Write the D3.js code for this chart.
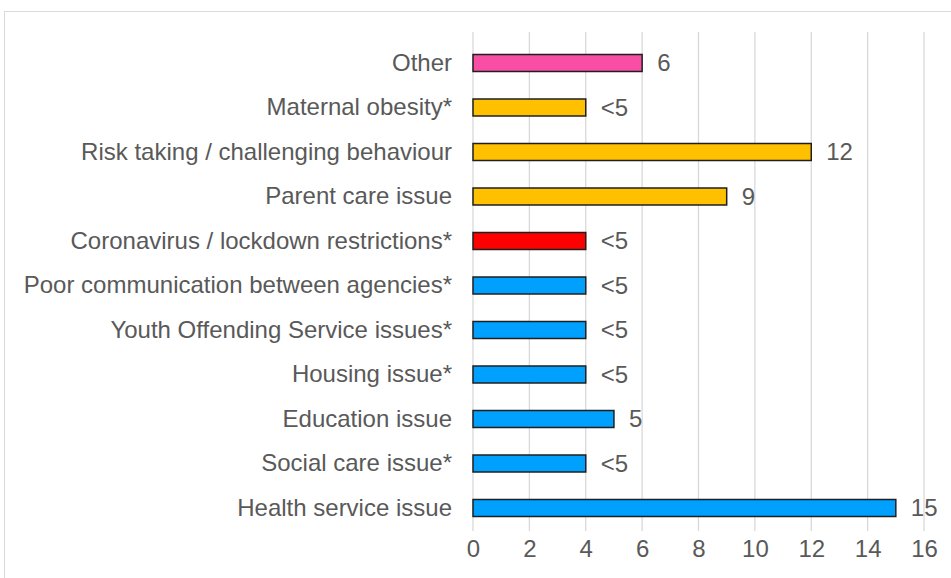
<!DOCTYPE html>
<html>
<head>
  <meta charset="utf-8">
  <script src="https://d3js.org/d3.v7.min.js"></script>
  <style>
    body { margin:0; background:#fff; }
    text { font-family: "Liberation Sans", Arial, sans-serif; fill:#595959; }
  </style>
</head>
<body>
<script>
  // chart data, top to bottom
  var categories = ["Other", "Maternal obesity*", "Risk taking / challenging behaviour",
    "Parent care issue", "Coronavirus / lockdown restrictions*",
    "Poor communication between agencies*", "Youth Offending Service issues*",
    "Housing issue*", "Education issue", "Social care issue*", "Health service issue"];
  var values = [6, 4, 12, 9, 4, 4, 4, 4, 5, 4, 15];
  var valueLabels = ["6", "<5", "12", "9", "<5", "<5", "<5", "<5", "5", "<5", "15"];
  var groups = ["other", "family", "family", "family", "covid",
    "service", "service", "service", "service", "service", "service"];
  var ticks = [0, 2, 4, 6, 8, 10, 12, 14, 16];

  var colour = {other: "#F84FA5", family: "#FFC000", covid: "#FF0000", service: "#00A0FF"};

  var W = 951, H = 578;
  var svg = d3.select("body").append("svg")
      .attr("width", W)
      .attr("height", H);

  // light frame around the chart
  svg.append("rect")
    .attr("x", 4.5).attr("y", 11.5)
    .attr("width", W + 10).attr("height", H + 10)
    .attr("fill", "none")
    .attr("stroke", "#d9d9d9");

  var x = d3.scaleLinear()
      .domain([0, 16])
      .range([473, 924]);

  var y = d3.scaleBand()
      .domain(categories)
      .range([40.75, 530.25])
      .paddingInner(0.618)
      .paddingOuter(0.309);

  // gridlines
  svg.append("g").selectAll("line").data(ticks).enter()
    .append("line")
      .attr("x1", function(d) { return x(d); })
      .attr("x2", function(d) { return x(d); })
      .attr("y1", 32)
      .attr("y2", 531)
      .attr("stroke", "#d9d9d9")
      .attr("stroke-width", 1.3);

  // x axis labels
  var xAxis = svg.append("g")
      .attr("transform", "translate(0,540)")
      .call(d3.axisBottom(x).tickValues(ticks).tickSize(0).tickPadding(0));
  xAxis.select(".domain").remove();
  xAxis.selectAll("text")
      .attr("dy", "0.71em")
      .style("font-size", "24px")
      .style("font-family", "Liberation Sans, Arial, sans-serif")
      .attr("fill", "#595959");

  // category labels
  var yAxis = svg.append("g")
      .attr("transform", "translate(452,0)")
      .call(d3.axisLeft(y).tickSize(0).tickPadding(0));
  yAxis.select(".domain").remove();
  yAxis.selectAll("text")
      .style("font-size", "24px")
      .style("font-family", "Liberation Sans, Arial, sans-serif")
      .attr("fill", "#595959");

  // bars
  svg.append("g").selectAll("rect").data(categories).enter()
    .append("rect")
      .attr("x", x(0))
      .attr("y", function(d) { return y(d); })
      .attr("width", function(d, i) { return x(values[i]) - x(0); })
      .attr("height", y.bandwidth())
      .attr("fill", function(d, i) { return colour[groups[i]]; })
      .attr("stroke", "#1f1f1f")
      .attr("stroke-width", 1.5);

  // value labels
  svg.append("g").selectAll("text").data(categories).enter()
    .append("text")
      .attr("x", function(d, i) { return x(values[i]) + 15; })
      .attr("y", function(d) { return y(d) + y.bandwidth() / 2; })
      .attr("dy", "0.35em")
      .style("font-size", "24px")
      .text(function(d, i) { return valueLabels[i]; });
</script>
</body>
</html>
